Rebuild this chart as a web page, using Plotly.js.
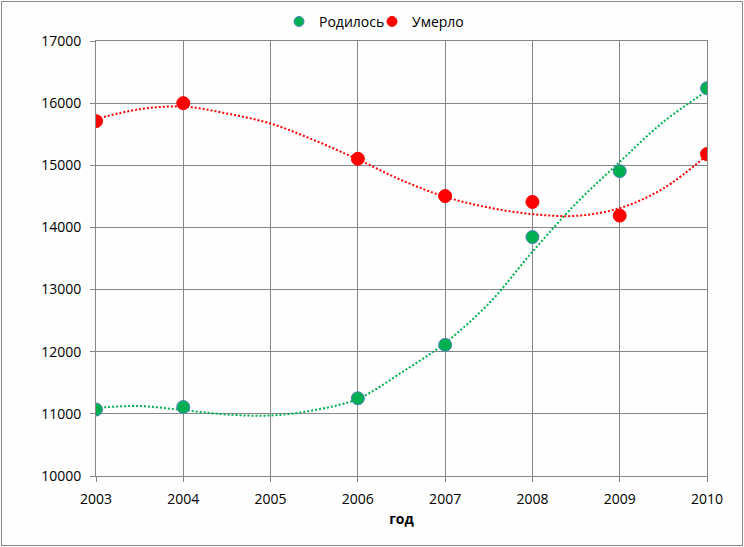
<!DOCTYPE html>
<html>
<head>
<meta charset="utf-8">
<script src="https://cdn.plot.ly/plotly-3.0.1.min.js"></script>
<style>
  html, body { margin: 0; padding: 0; background: #ffffff; }
  #chart { position: absolute; left: 0; top: 0; width: 744px; height: 547px; }
  #frame { position: absolute; left: 1px; top: 1px; width: 740px; height: 543px;
           border: 1px solid #8a8a8a; pointer-events: none; }
</style>
</head>
<body>
<div id="chart"></div>
<div id="frame"></div>
<script>
// data points (no value for 2005)
const years = [2003, 2004, 2006, 2007, 2008, 2009, 2010];
const born = [11070, 11110, 11250, 12110, 13845, 14905, 16240];
const died = [15710, 16000, 15105, 14505, 14410, 14190, 15180];

// trend lines (polynomial in the original), every half year
const trendYears = [2003, 2003.5, 2004, 2004.5, 2005, 2005.5, 2006, 2006.5,
                    2007, 2007.5, 2008, 2008.5, 2009, 2009.5, 2010];
const bornTrend = [11097, 11125, 11060, 10990, 10974, 11060, 11242, 11665,
                   12142, 12775, 13609, 14386, 15054, 15698, 16197];
const diedTrend = [15745, 15902, 15945, 15833, 15672, 15404, 15094, 14761,
                   14493, 14320, 14214, 14187, 14310, 14628, 15160];

const xTicks = [2003, 2004, 2005, 2006, 2007, 2008, 2009, 2010];

const green = '#00b050';
const red = '#ff0000';
const grid = '#868686';
const font = '"Open Sans", "Noto Sans", sans-serif';

const traces = [
  // trend lines first so the markers sit on top
  {
    x: trendYears, y: bornTrend, mode: 'lines', showlegend: false, hoverinfo: 'skip',
    line: {color: green, width: 2, dash: '2px,2px', shape: 'spline', smoothing: 1}
  },
  {
    x: trendYears, y: diedTrend, mode: 'lines', showlegend: false, hoverinfo: 'skip',
    line: {color: red, width: 2, dash: '2px,2px', shape: 'spline', smoothing: 1}
  },
  {
    x: years, y: born, mode: 'markers', name: 'Родилось', showlegend: false,
    marker: {color: green, size: 13, line: {color: '#4f81bd', width: 1}}
  },
  {
    x: years, y: died, mode: 'markers', name: 'Умерло', showlegend: false,
    marker: {color: red, size: 13, line: {color: red, width: 1}}
  },
  // legend entries with the smaller legend symbols
  {
    x: [null], y: [null], mode: 'markers', name: 'Родилось',
    marker: {color: green, size: 10, line: {color: '#4f81bd', width: 1}}
  },
  {
    x: [null], y: [null], mode: 'markers', name: 'Умерло',
    marker: {color: red, size: 10, line: {color: red, width: 1}}
  }
];

const layout = {
  width: 744,
  height: 547,
  margin: {l: 96, r: 37, t: 41, b: 71, pad: 0},
  paper_bgcolor: '#fdfefd',
  plot_bgcolor: '#fdfefd',
  font: {family: font, size: 14, color: '#000000'},
  showlegend: true,
  legend: {
    orientation: 'h',
    xref: 'container', yref: 'container',
    x: 0.5, xanchor: 'center',
    y: 0.96, yanchor: 'middle',
    font: {family: font, size: 14, color: '#000000'},
    itemwidth: 30,
    entrywidth: 48, entrywidthmode: 'pixels',
    bgcolor: 'rgba(0,0,0,0)'
  },
  xaxis: {
    range: [2003, 2010],
    tickvals: xTicks,
    ticktext: xTicks.map(String),
    showgrid: true, gridcolor: grid, gridwidth: 1,
    zeroline: false,
    showline: true, mirror: true, linecolor: grid, linewidth: 1,
    ticks: 'outside', ticklen: 5, tickcolor: grid, tickwidth: 1,
    ticklabelstandoff: 5,
    title: {text: '<b>год</b>', font: {family: font, size: 14, color: '#000000'}, standoff: 7}
  },
  yaxis: {
    range: [10000, 17000],
    dtick: 1000,
    tickformat: 'd',
    showgrid: true, gridcolor: grid, gridwidth: 1,
    zeroline: false,
    showline: true, mirror: true, linecolor: grid, linewidth: 1,
    ticks: 'outside', ticklen: 5, tickcolor: grid, tickwidth: 1,
    ticklabelstandoff: 6
  }
};

Plotly.newPlot('chart', traces, layout, {displayModeBar: false, staticPlot: true});
</script>
</body>
</html>
